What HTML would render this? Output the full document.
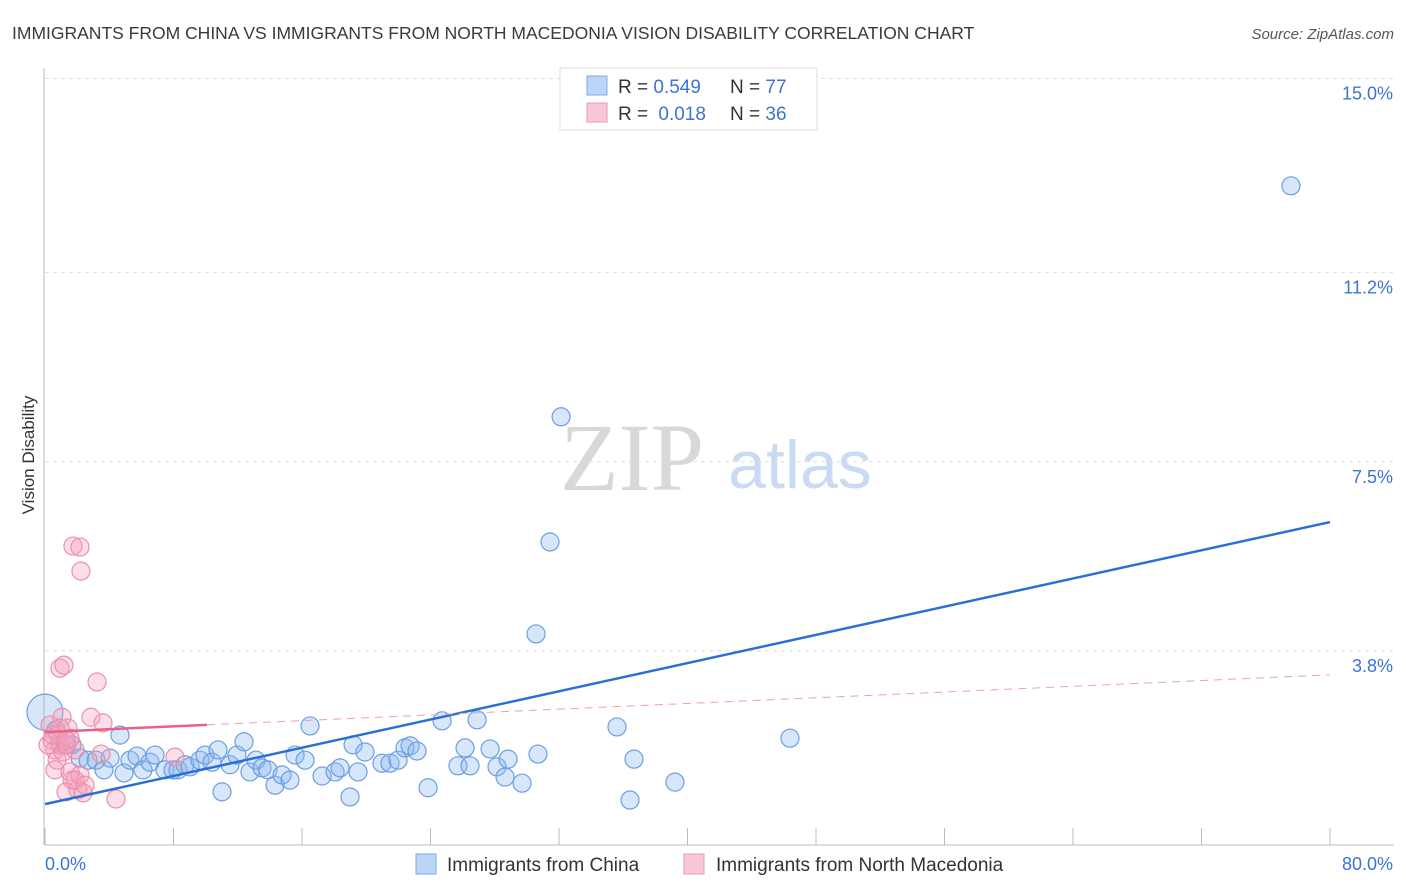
<!DOCTYPE html>
<html><head><meta charset="utf-8">
<style>
body{margin:0;background:#fff;font-family:"Liberation Sans",sans-serif;}
svg{display:block}
</style></head>
<body>
<svg id="chart" width="1406" height="892" xmlns="http://www.w3.org/2000/svg">
<text x="12" y="39" font-size="17.5" fill="#3a3a3a">IMMIGRANTS FROM CHINA VS IMMIGRANTS FROM NORTH MACEDONIA VISION DISABILITY CORRELATION CHART</text>
<text x="1394" y="39" font-size="15" font-style="italic" fill="#555" text-anchor="end">Source: ZipAtlas.com</text>
<g>
<text x="632" y="490" font-size="96" font-family="Liberation Serif,serif" fill="#d8d8d8" text-anchor="middle">ZIP</text>
<text x="800" y="488" font-size="68" fill="#c9dbf2" text-anchor="middle">atlas</text>
</g>
<g id="grid"></g>
<g id="axes"></g>
<text transform="translate(34,455) rotate(-90)" font-size="17" fill="#333" text-anchor="middle">Vision Disability</text>
<g id="marks"></g>
<g>
<rect x="560" y="68" width="257" height="62" fill="#fff" stroke="#ddd"/>
<rect x="587" y="76" width="20" height="19" fill="#bcd4f6" stroke="#7eaae6"/>
<rect x="587" y="103" width="20" height="19" fill="#f8c8d6" stroke="#eb99b3"/>
<text x="618" y="93" font-size="19" fill="#333">R = <tspan fill="#3b74d4">0.549</tspan></text>
<text x="730" y="93" font-size="19" fill="#333">N = <tspan fill="#3b74d4">77</tspan></text>
<text x="618" y="120" font-size="19" fill="#333">R = <tspan fill="#3b74d4" dx="5">0.018</tspan></text>
<text x="730" y="120" font-size="19" fill="#333">N = <tspan fill="#3b74d4">36</tspan></text>
</g>
<g>
<rect x="416" y="854" width="20" height="20" fill="#bcd4f6" stroke="#7eaae6"/>
<text x="447" y="871" font-size="19" fill="#333">Immigrants from China</text>
<rect x="684" y="854" width="20" height="20" fill="#f8c8d6" stroke="#eb99b3"/>
<text x="716" y="871" font-size="19" fill="#333">Immigrants from North Macedonia</text>
</g>
</svg>
<script>
const yTicks=[15.0,11.2,7.5,3.8];
const yTickLabels=["15.0%","11.2%","7.5%","3.8%"];
const xTickLabels=["0.0%","80.0%"];
const chinaX=[0,0.68,0.93,1.25,1.68,2.18,2.68,3.18,3.67,4.05,4.67,4.92,5.29,5.73,6.10,6.54,6.85,7.47,7.97,8.28,8.72,9.03,9.65,9.96,10.40,10.77,11.02,11.52,11.95,12.39,12.76,13.14,13.51,13.88,14.32,14.76,15.25,15.57,16.19,16.50,17.25,18.06,18.37,18.99,19.18,19.49,19.92,20.98,21.48,21.98,22.41,22.73,23.16,23.85,24.72,25.71,26.15,26.46,26.90,27.71,28.14,28.64,28.83,29.70,30.69,30.57,31.44,32.13,35.61,36.42,36.67,39.22,46.38,77.57];
const chinaY=[2.60,2.25,1.96,1.96,1.96,1.70,1.66,1.66,1.47,1.70,2.15,1.41,1.66,1.74,1.47,1.62,1.76,1.47,1.47,1.47,1.57,1.53,1.66,1.76,1.62,1.86,1.04,1.57,1.76,2.02,1.43,1.66,1.51,1.47,1.17,1.37,1.27,1.76,1.66,2.33,1.35,1.43,1.51,0.94,1.96,1.43,1.82,1.60,1.60,1.66,1.90,1.94,1.84,1.12,2.43,1.55,1.90,1.55,2.45,1.88,1.53,1.33,1.68,1.21,1.78,4.13,5.93,8.38,2.31,0.88,1.68,1.23,2.09,12.90];
const macX=[0.31,0.44,0.62,0.75,0.93,1.06,0.93,1.18,1.43,1.56,1.68,1.31,1.87,2.05,2.18,2.37,1.74,2.18,2.24,3.24,2.86,3.61,3.49,4.42,8.09,0.81,1.12,0.19,0.62,1.37,0.50,1.56,0.93,1.31,1.87,2.49];
const macY=[2.35,2.05,1.86,1.66,1.96,2.50,3.46,3.52,2.29,1.43,1.27,1.04,1.86,1.08,1.37,1.02,5.85,5.83,5.36,3.19,2.50,2.39,1.78,0.90,1.72,2.15,1.82,1.96,1.47,1.96,2.15,2.09,2.29,2.05,1.27,1.17];
const chinaTrend=[0.80,6.32];
const macTrend=[2.21,3.33];
const macSolidEnd=10.09;

const NS="http://www.w3.org/2000/svg";
function xs(v){return 45+v/80*1285;}
function ys(v){return 845-v*51.1;}
function mk(tag,attrs,parent){const e=document.createElementNS(NS,tag);for(const k in attrs)e.setAttribute(k,attrs[k]);parent.appendChild(e);return e;}
const grid=document.getElementById('grid'),axes=document.getElementById('axes'),marks=document.getElementById('marks');
yTicks.forEach((t,i)=>{
 const l=mk('line',{x1:45,x2:1394,y1:ys(t),y2:ys(t),stroke:'#ddd','stroke-dasharray':'4 4'},grid);
 
 
 const tx=mk('text',{x:1393,y:ys(t)+21,'font-size':18,fill:'#3b74d4','text-anchor':'end'},axes);
 tx.textContent=yTickLabels[i];
 
 
});
const ax=mk('line',{x1:45,x2:1394,y1:845,y2:845,stroke:'#bbb'},axes);


const ay=mk('line',{x1:44,x2:44,y1:68,y2:845,stroke:'#bbb'},axes);


for(let i=0;i<=10;i++){
 const t=mk('line',{x1:xs(i*8),x2:xs(i*8),y1:828,y2:845,stroke:'#bbb'},axes);
 
 
}
const xl0=mk('text',{x:45,y:870,'font-size':18,fill:'#3b74d4'},axes);xl0.textContent=xTickLabels[0];


const xl1=mk('text',{x:1393,y:870,'font-size':18,fill:'#3b74d4','text-anchor':'end'},axes);xl1.textContent=xTickLabels[1];



chinaX.forEach((x,i)=>{
 const c=mk('circle',{cx:xs(x),cy:ys(chinaY[i]),r:i===0?18:9,fill:'rgba(140,182,238,0.35)',stroke:'#6b9ee3','stroke-width':1.2},marks);
 
 
});
macX.forEach((x,i)=>{
 const c=mk('circle',{cx:xs(x),cy:ys(macY[i]),r:9,fill:'rgba(244,160,185,0.35)',stroke:'#ec8fac','stroke-width':1.2},marks);
 
 
});
const ct=mk('line',{x1:xs(0),y1:ys(chinaTrend[0]),x2:xs(80),y2:ys(chinaTrend[1]),stroke:'#2a6fd6','stroke-width':2.5},marks);


const mEnd=macTrend[0]+(macTrend[1]-macTrend[0])*macSolidEnd/80;
const ms=mk('line',{x1:xs(0),y1:ys(macTrend[0]),x2:xs(macSolidEnd),y2:ys(mEnd),stroke:'#e8608a','stroke-width':2.5},marks);


const md=mk('line',{x1:xs(macSolidEnd),y1:ys(mEnd),x2:xs(80),y2:ys(macTrend[1]),stroke:'#e8a0b8','stroke-width':1,'stroke-dasharray':'8 6'},marks);


</script>
</body></html>
